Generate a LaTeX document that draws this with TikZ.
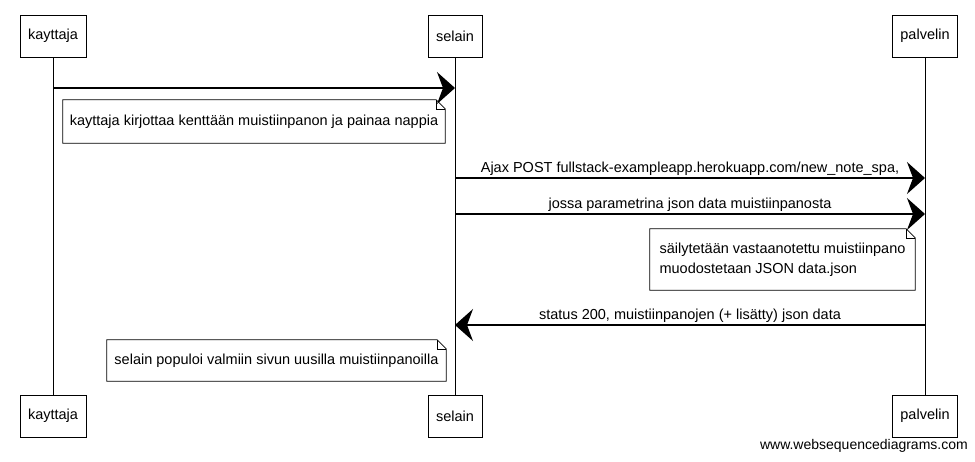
\documentclass[tikz,border=0pt]{standalone}
\usepackage{fontspec}
\setmainfont{Liberation Sans}
\usetikzlibrary{arrows.meta}

\tikzset{
  actor/.style={draw=black,fill=white,line width=0.8pt,minimum height=42pt,inner xsep=8pt,font=\fontsize{14.5}{16}\selectfont},
  msg/.style={draw=black,line width=1.3pt,-{Stealth[length=18pt,width=32pt,inset=6pt]}},
  msglabel/.style={font=\fontsize{14.5}{16}\selectfont,above,inner sep=2pt},
  notetext/.style={font=\fontsize{14.5}{20}\selectfont,align=left,inner xsep=6pt,inner ysep=6pt},
  lifeline/.style={draw=black,line width=0.6pt}
}

\begin{document}
\begin{tikzpicture}[x=1pt,y=-1pt]
\useasboundingbox (0,0) rectangle (975,461);

% The lifelines
\draw[lifeline] (53,57) -- (53,395);
\draw[lifeline] (455,57) -- (455,395);
\draw[lifeline] (925,57) -- (925,395);

% The actors
\node[actor] (kayttajaTop) at (53,36) {kayttaja};
\node[actor] (selainTop) at (455,36) {selain};
\node[actor] (palvelinTop) at (925,36) {palvelin};
\node[actor] (kayttajaBot) at (53,416) {kayttaja};
\node[actor] (selainBot) at (455,416) {selain};
\node[actor] (palvelinBot) at (925,416) {palvelin};

% The message ends
\coordinate (k1) at (53,88);
\coordinate (s1) at (455,88);
\coordinate (s2) at (455,178);
\coordinate (p2) at (925,178);
\coordinate (s3) at (455,214);
\coordinate (p3) at (925,214);
\coordinate (p4) at (925,325);
\coordinate (s4) at (455,325);

% The messages
\draw[msg] (k1) -- (s1);
\draw[msg] (s2) -- node[msglabel] {Ajax POST fullstack-exampleapp.herokuapp.com/new\_note\_spa,} (p2);
\draw[msg] (s3) -- node[msglabel] {jossa parametrina json data muistiinpanosta} (p3);
\draw[msg] (p4) -- node[msglabel] {status 200, muistiinpanojen (+ lisätty) json data} (s4);

% The notes
\node[notetext,minimum width=382pt,minimum height=43pt] (note1) at (254,121.5) {kayttaja kirjottaa kenttään muistiinpanon ja painaa nappia};
\node[notetext,minimum width=265pt,minimum height=61pt] (note2) at (782.5,259.5) {säilytetään vastaanotettu muistiinpano\\muodostetaan JSON data.json};
\node[notetext,minimum width=339pt,minimum height=41pt] (note3) at (276.5,360.5) {selain populoi valmiin sivun uusilla muistiinpanoilla};
\foreach \n in {note1,note2,note3}{
  \draw[line width=0.8pt] (\n.south west) -- (\n.north west) -- ([xshift=-9pt]\n.north east)
    -- ([yshift=-9pt]\n.north east) -- (\n.south east) -- cycle;
  \draw[line width=0.6pt] ([xshift=-9pt]\n.north east) |- ([yshift=-9pt]\n.north east);
}

% The watermark
\node[anchor=east,font=\fontsize{14}{16}\selectfont,inner sep=0pt] (mark) at (968,446) {www.websequencediagrams.com};

\end{tikzpicture}
\end{document}
